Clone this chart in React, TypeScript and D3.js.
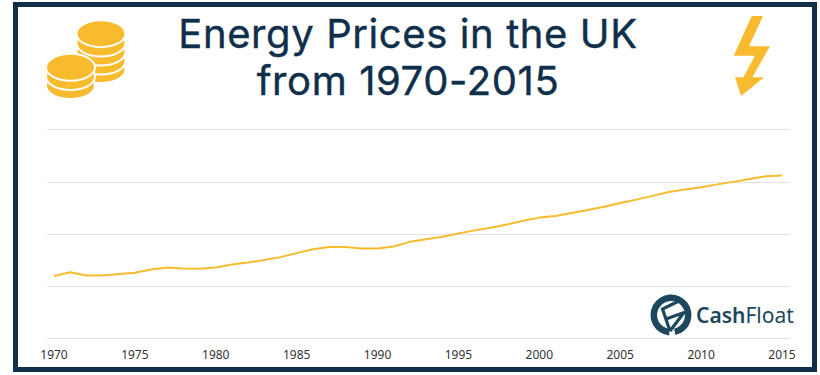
import React from "react";
import * as d3 from "d3";

const years = d3.range(1970, 2016);
const prices = [
  29.7, 31.5, 29.9, 29.9, 30.6, 31.2, 32.8, 33.7, 33.2, 33.1,
  33.7, 35.2, 36.1, 37.3, 38.7, 40.6, 42.5, 43.5, 43.5, 42.8,
  42.8, 43.8, 46.0, 47.3, 48.4, 50.0, 51.5, 52.8, 54.3, 56.1,
  57.6, 58.4, 59.8, 61.2, 62.8, 64.6, 66.2, 68.0, 69.9, 71.0,
  72.1, 73.5, 74.7, 76.1, 77.4, 77.7,
];
const gridValues = [0, 25, 50, 75, 100];
const tickYears = [1970, 1975, 1980, 1985, 1990, 1995, 2000, 2005, 2010, 2015];
const titleLines = ["Energy Prices in the UK", "from 1970-2015"];

const NAVY = "#0f2f4b";
const GOLD = "#f8bb2d";
const TEAL = "#1d475c";

const backCoins = [69.5, 61, 52, 43, 33.7];
const frontCoins = [85.5, 76.5, 67.3];
const boltPoints = "751.7,16 763,16 749,46.3 770,46.3 752.3,77.3 764,77.3 741,96 735,77.3 743.3,77.3 755,55.7 733.7,55.7";

export default function App() {
  const x = d3.scaleLinear().domain([1970, 2015]).range([54, 782]);
  const y = d3.scaleLinear().domain([0, 100]).range([338, 129]);
  const line = d3
    .line<number>()
    .x((_, i) => x(years[i]))
    .y((d) => y(d));
  const ring = d3.arc()({
    innerRadius: 14,
    outerRadius: 20.5,
    startAngle: Math.PI * 1.03,
    endAngle: Math.PI * 2.93,
  });

  return (
    <svg
      width={820}
      height={375}
      style={{ position: "absolute", left: 0, top: 0, background: "#fff" }}
    >
      <rect x={15.5} y={4.5} width={799} height={365} fill="#fff" stroke={NAVY} strokeWidth={5} />
      {titleLines.map((t, i) => (
        <text
          key={t}
          x={408}
          y={48 + i * 47}
          textAnchor="middle"
          fontFamily="Inter, sans-serif"
          fontSize={40}
          fontWeight={400}
          letterSpacing={0.6}
          stroke={NAVY}
          strokeWidth={0.4}
          fill={NAVY}
        >
          {t}
        </text>
      ))}
      {backCoins.map((cy) => (
        <ellipse key={cy} cx={101} cy={cy} rx={24.5} ry={13.5} fill={GOLD} stroke="#fff" strokeWidth={2} />
      ))}
      {frontCoins.map((cy) => (
        <ellipse key={cy} cx={70.5} cy={cy} rx={24.5} ry={13.5} fill={GOLD} stroke="#fff" strokeWidth={2} />
      ))}
      <polygon points={boltPoints} fill={GOLD} />
      {gridValues.map((v) => (
        <line key={v} x1={47} x2={790} y1={Math.ceil(y(v)) + 0.5} y2={Math.ceil(y(v)) + 0.5} stroke="#e3e3e3" strokeWidth={1} />
      ))}
      <path d={line(prices) ?? ""} fill="none" stroke={GOLD} strokeWidth={2} strokeLinejoin="round" />
      {tickYears.map((t) => (
        <text
          key={t}
          x={x(t)}
          y={359}
          textAnchor="middle"
          fontFamily="'Noto Sans', sans-serif"
          fontSize={12}
          fill="#333"
        >
          {t}
        </text>
      ))}
      <g>
        <path d={ring ?? ""} transform="translate(671 315)" fill={TEAL} />
        <path
          d="M670 331 L662.5 309 L681 300 M666 319 L684 312.5 L670 331"
          fill="none"
          stroke={TEAL}
          strokeWidth={3.2}
        />
        <text x={696} y={323} fontFamily="'Noto Sans', sans-serif" fontSize={21} fill={TEAL}>
          <tspan fontWeight={600}>Cash</tspan>
          <tspan>Float</tspan>
        </text>
      </g>
    </svg>
  );
}
